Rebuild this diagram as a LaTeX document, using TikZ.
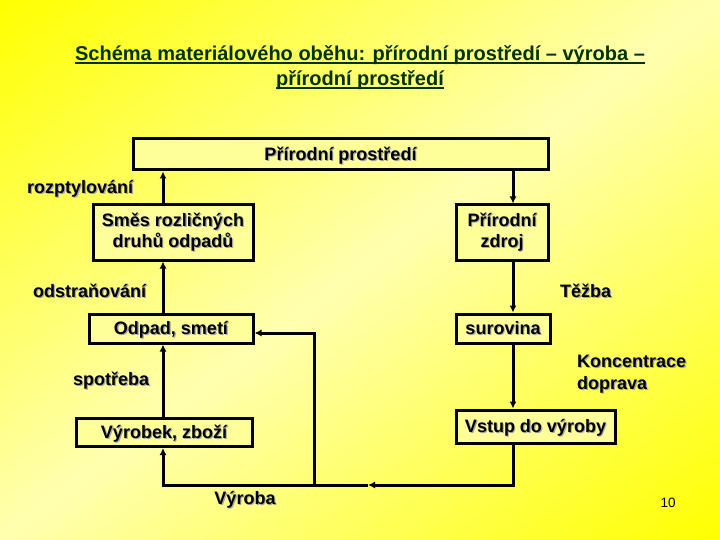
\documentclass[tikz,border=0pt]{standalone}
\usepackage{fontspec}
\setmainfont{Liberation Sans}
\usetikzlibrary{arrows.meta}
\definecolor{titlegreen}{HTML}{003300}
\definecolor{boxfill}{HTML}{FFFF99}
\definecolor{bgpale}{HTML}{FFFFB0}
\definecolor{bgyel}{HTML}{FFFF00}
\newcommand\shd[1]{\rlap{\hspace{1.2pt}\raisebox{-1.2pt}{\color{black!35}#1}}#1}
\tikzset{
  box/.style={draw=black, line width=3pt, fill=boxfill, inner sep=0pt, align=center,
    font=\fontsize{18}{21}\selectfont\bfseries},
  onebox/.style={box, text height=15.5pt, text depth=3.8pt},
  lbl/.style={inner sep=0pt, align=left, font=\fontsize{18}{22}\selectfont\bfseries},
  arr/.style={line width=3pt, -{Latex[length=7pt,width=7pt]}},
  ln/.style={line width=3pt},
  ttl/.style={inner sep=0pt, text=titlegreen, font=\fontsize{20}{24}\selectfont\bfseries},
  uln/.style={draw=titlegreen, line width=1.8pt}
}
\begin{document}
\begin{tikzpicture}[x=1pt,y=-1pt]
\begin{scope}
\clip (0,0) rectangle (720,540);
\foreach \i in {0,...,99}{
  \pgfmathsetmacro\sa{-432+\i*8.64}
  \pgfmathsetmacro\sb{\sa+9.6}
  \pgfmathsetmacro\m{max(0,min(100,100*(1-abs(\sa+4.32)/432)))}
  \fill[bgpale!\m!bgyel] ({360+0.6*\sa-640},{270+0.8*\sa+480}) -- ({360+0.6*\sa+640},{270+0.8*\sa-480})
     -- ({360+0.6*\sb+640},{270+0.8*\sb-480}) -- ({360+0.6*\sb-640},{270+0.8*\sb+480}) -- cycle;
}
\end{scope}
\useasboundingbox (0,0) rectangle (720,540);

\node[ttl] (t1) at (360,55) {Schéma materiálového oběhu: přírodní prostředí – výroba –};
\node[ttl] (t2) at (360,80) {přírodní prostředí};
\draw[uln] ([yshift=-2.8pt]t1.base west) -- ([yshift=-2.8pt]t1.base east);
\draw[uln] ([yshift=-2.8pt]t2.base west) -- ([yshift=-2.8pt]t2.base east);

\node[onebox, minimum width=415pt, minimum height=31pt] (pp) at (340.5,154.5) {\shd{Přírodní prostředí}};
\node[box, minimum width=160pt, minimum height=55pt] (smes) at (173,232.5) {\shd{Směs rozličných}\\\shd{druhů odpadů}};
\node[box, minimum width=92pt, minimum height=55pt] (zdroj) at (502,232.5) {\shd{Přírodní}\\\shd{zdroj}};
\node[onebox, minimum width=164pt, minimum height=29pt] (odpad) at (171,328.5) {\shd{Odpad, smetí}};
\node[onebox, minimum width=94pt, minimum height=29pt] (surovina) at (503,328.5) {\shd{surovina}};
\node[onebox, minimum width=176pt, minimum height=28pt] (vyrobek) at (164,432.5) {\shd{Výrobek, zboží}};
\node[onebox, minimum width=159pt, minimum height=33pt] (vstup) at (535.5,426.5) {\shd{Vstup do výroby}};

\node[lbl, anchor=west] (rozp) at (27,189) {\shd{rozptylování}};
\node[lbl, anchor=west] (odstr) at (33,291) {\shd{odstraňování}};
\node[lbl, anchor=west] (tezba) at (560,291) {\shd{Těžba}};
\node[lbl, anchor=west] (spot) at (73,381) {\shd{spotřeba}};
\node[lbl, anchor=west] (konc) at (577,375) {\shd{Koncentrace}\\\shd{doprava}};
\node[lbl] (vyroba) at (245,500) {\shd{Výroba}};
\node[inner sep=0pt, font=\fontsize{13.5}{16}\selectfont] (num) at (668,503) {10};

\coordinate (L) at (163,0);
\coordinate (R) at (513,0);
\coordinate (J) at (314,0);
\coordinate (B) at (0,485);
\coordinate (M) at (368,485);
\coordinate (H) at (0,333);

\draw[arr] (L |- smes.north) -- (L |- pp.south);
\draw[arr] (R |- pp.south) -- (R |- zdroj.north);
\draw[arr] (L |- odpad.north) -- (L |- smes.south);
\draw[arr] (R |- zdroj.south) -- (R |- surovina.north);
\draw[arr] (L |- vyrobek.north) -- (L |- odpad.south);
\draw[arr] (R |- surovina.south) -- (R |- vstup.north);
\draw[arr] (R |- vstup.south) -- (R |- B) -- (M);
\draw[ln] (M) -- (J |- B);
\draw[arr] (J |- B) -- (L |- B) -- (L |- vyrobek.south);
\draw[arr] (J |- B) -- (J |- H) -- (odpad.east |- H);
\end{tikzpicture}
\end{document}
